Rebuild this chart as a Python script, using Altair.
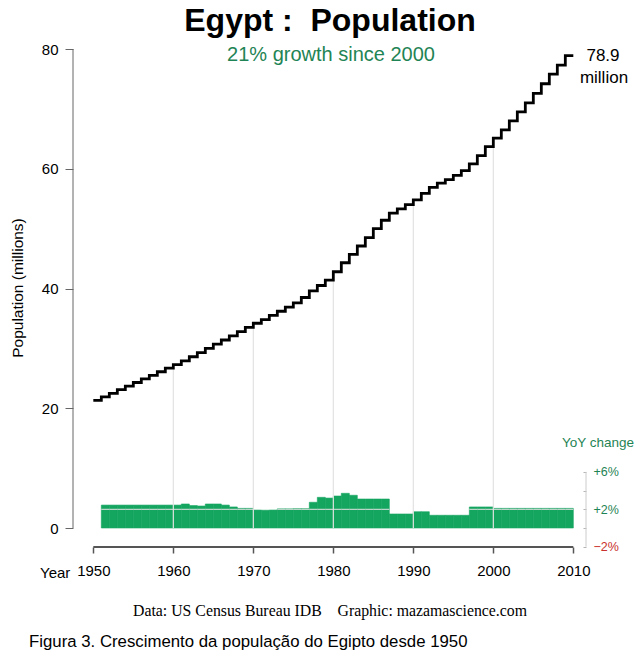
import altair as alt
import pandas as pd

# ---- data -------------------------------------------------------------
years = list(range(1950, 2010))
population = [
    21.3, 21.9, 22.5, 23.1, 23.7, 24.3, 24.9, 25.5, 26.1, 26.7,
    27.3, 27.9, 28.6, 29.3, 30.0, 30.7, 31.4, 32.1, 32.8, 33.5,
    34.2, 34.8, 35.5, 36.2, 36.9, 37.6, 38.5, 39.6, 40.5, 41.4,
    42.8, 44.3, 45.7, 47.1, 48.5, 50.0, 51.4, 52.6, 53.3, 54.0,
    54.8, 55.9, 56.9, 57.6, 58.2, 58.9, 59.7, 60.8, 62.2, 63.7,
    65.1, 66.5, 68.0, 69.5, 71.0, 72.6, 74.2, 75.8, 77.3, 78.9,
]
yoy_years = list(range(1951, 2010))
yoy_change = [
    2.45, 2.45, 2.45, 2.45, 2.45, 2.45, 2.45, 2.45, 2.45,
    2.45, 2.57, 2.40, 2.35, 2.57, 2.57, 2.45, 2.25, 2.10, 2.10,
    1.92, 1.90, 1.92, 2.05, 2.05, 2.07, 2.07, 2.75, 3.28, 3.20,
    3.42, 3.71, 3.50, 3.10, 3.10, 3.10, 3.10, 1.50, 1.50, 1.50,
    1.74, 1.74, 1.36, 1.36, 1.36, 1.36, 1.36, 2.25, 2.25, 2.25,
    2.10, 2.10, 2.10, 2.10, 2.10, 2.10, 2.10, 2.10, 2.10, 2.10,
]
grid_years = [1960, 1970, 1980, 1990, 2000]
x_ticks = [1950, 1960, 1970, 1980, 1990, 2000, 2010]
pop_ticks = [0, 20, 40, 60, 80]
pct_ticks = [-2, 0, 2, 4, 6]
base_year = 2000

# ---- layout -----------------------------------------------------------
W, H = 513, 498
X_DOMAIN = [1947.46, 2011.585]
POP_DOMAIN = [-3.173, 80]
PCT_DOMAIN = [-2.032, 51.23]

SANS = "Liberation Sans"
SERIF = "Liberation Serif"
GREEN = "#14a55f"
DARK_GREEN = "#1f8455"
RED = "#c8312d"
GRID = "#e2e2e2"
NB = "\u00a0"


def xs():
    return alt.Scale(domain=X_DOMAIN, nice=False, zero=False)


def pop_scale():
    return alt.Scale(domain=POP_DOMAIN, nice=False, zero=False)


def pct_scale():
    return alt.Scale(domain=PCT_DOMAIN, nice=False, zero=False)


# step line: each year's level runs until the next year
line_df = pd.DataFrame({
    "year": years + [years[-1] + 1],
    "pop": population + [population[-1]],
})
bar_df = pd.DataFrame({
    "year": yoy_years,
    "year_end": [y + 1 for y in yoy_years],
    "yoy": yoy_change,
})
grid_df = pd.DataFrame({
    "year": grid_years,
    "top": [population[years.index(g - 1)] for g in grid_years],
})
one = pd.DataFrame({"a": [0]})

growth = round((population[-1] / population[years.index(base_year)] - 1) * 100)

# ---- YoY bars (right-hand scale) ----------------------------------------
bars = alt.Chart(bar_df).mark_rect(color=GREEN, stroke=GREEN, strokeWidth=0.6).encode(
    x=alt.X("year:Q", scale=xs(), axis=None),
    x2="year_end:Q",
    y=alt.Y(
        "yoy:Q",
        scale=pct_scale(),
        axis=alt.Axis(
            orient="right",
            values=pct_ticks,
            labelExpr="datum.value > 0 && datum.value != 4 ? '+' + datum.value + '%' : "
                      "(datum.value < 0 ? '\u2212' + abs(datum.value) + '%' : '')",
            labelColor={"condition": {"test": "datum.value < 0", "value": RED}, "value": DARK_GREEN},
            labelFont=SANS,
            labelFontSize=12.5,
            labelPadding=7,
            tickColor="#b5b5b5",
            tickSize=3,
            offset=-3,
            domain=False,
            grid=False,
            title=None,
        ),
    ),
    y2=alt.datum(0),
)

two_pct = alt.Chart(bar_df).transform_filter("datum.yoy > 2").mark_rule(
    color=GRID, strokeWidth=1
).encode(
    x=alt.X("year:Q", scale=xs(), axis=None),
    x2="year_end:Q",
    y=alt.datum(2, scale=pct_scale(), axis=None),
)

pct_axis_line = alt.Chart(one).mark_rule(color="#cccccc", strokeWidth=1).encode(
    x=alt.value(W),
    y=alt.datum(pct_ticks[0], scale=pct_scale(), axis=None),
    y2=alt.datum(pct_ticks[-1]),
)

# ---- population (left-hand scale) --------------------------------------
grid = alt.Chart(grid_df).mark_rule(color=GRID, strokeWidth=1.2).encode(
    x=alt.X("year:Q", scale=xs(), axis=None),
    y=alt.Y("top:Q", scale=pop_scale(), axis=None),
    y2=alt.datum(0),
)

line = alt.Chart(line_df).mark_line(
    interpolate="step-after", color="black", strokeWidth=2.8
).encode(
    x=alt.X(
        "year:Q",
        scale=xs(),
        axis=alt.Axis(
            orient="bottom",
            values=x_ticks,
            format="d",
            domain=False,
            grid=False,
            tickColor="#555555",
            tickWidth=1.5,
            tickSize=6,
            labelFont=SANS,
            labelFontSize=15,
            labelColor="black",
            labelPadding=10,
            title=None,
        ),
    ),
    y=alt.Y(
        "pop:Q",
        scale=pop_scale(),
        axis=alt.Axis(
            orient="left",
            values=pop_ticks,
            domain=False,
            grid=False,
            tickColor="#666666",
            tickSize=8,
            labelFont=SANS,
            labelFontSize=15,
            labelColor="black",
            labelPadding=7,
            title=None,
        ),
    ),
)

y_axis_line = alt.Chart(one).mark_rule(color="#666666", strokeWidth=1).encode(
    x=alt.value(0),
    y=alt.datum(pop_ticks[0], scale=pop_scale(), axis=None),
    y2=alt.datum(pop_ticks[-1]),
)

x_axis_line = alt.Chart(one).mark_rule(color="#555555", strokeWidth=1.8).encode(
    x=alt.datum(x_ticks[0], scale=xs(), axis=None),
    x2=alt.datum(x_ticks[-1]),
    y=alt.value(H),
)

year_word = alt.Chart(one).mark_text(
    text="Year", font=SANS, fontSize=15, align="right", baseline="middle", dx=-23
).encode(
    x=alt.datum(x_ticks[0], scale=xs(), axis=None),
    y=alt.value(H + 26),
)


def label(text, x, y, size, color="black", font=SANS, weight="normal", align="center", angle=0):
    return alt.Chart(one).mark_text(
        text=text, font=font, fontSize=size, fontWeight=weight, color=color,
        align=align, baseline="middle", angle=angle,
    ).encode(x=alt.value(x), y=alt.value(y))


end_value = label(f"{population[-1]}", 530, 7, 17)
end_unit = label("million", 531, 29, 17)
title = label(f"Egypt{NB}:{NB}{NB}Population", 257, -28, 32, weight="bold")
subtitle = label(f"{growth}% growth since {base_year}", 258, 6, 20, color=DARK_GREEN)
y_title = label("Population (millions)", -55, 239, 15.5, angle=270)
yoy_title = label("YoY change", 525, 394, 13.5, color=DARK_GREEN)
source = label(f"Data: US Census Bureau IDB{NB * 4}Graphic: mazamascience.com",
               257, 562, 15.8, font=SERIF)
caption = label("Figura 3. Crescimento da população do Egipto desde 1950",
                -44, 593, 16.8, align="left")

chart = (
    alt.layer(
        bars, two_pct, pct_axis_line,
        grid, y_axis_line, x_axis_line, year_word, line,
        end_value, end_unit, title, subtitle, y_title, yoy_title, source, caption,
    )
    .resolve_scale(y="independent")
    .resolve_axis(x="independent", y="independent")
    .properties(
        width=W,
        height=H,
        autosize=alt.AutoSizeParams(type="none"),
        padding={"left": 73, "top": 49, "right": 56, "bottom": 117},
        background="white",
    )
    .configure_view(stroke=None)
)

chart.save("out.html", embed_options={"renderer": "svg", "actions": False})
